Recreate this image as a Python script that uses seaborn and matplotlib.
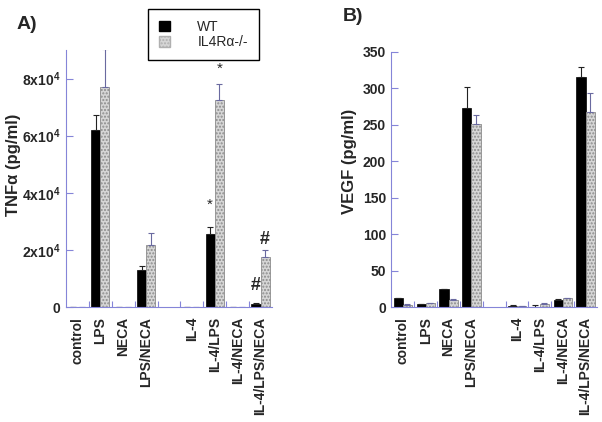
import numpy as np
import pandas as pd
import seaborn as sns
import matplotlib.pyplot as plt
import matplotlib.patches as mpatches

conditions = ['control', 'LPS', 'NECA', 'LPS/NECA',
              'IL-4', 'IL-4/LPS', 'IL-4/NECA', 'IL-4/LPS/NECA']
slots = conditions[:4] + [' '] + conditions[4:]   # empty slot between the two groups
groups = ['WT', 'IL4Rα-/-']

# panel A, TNFa (pg/ml)
tnf_wt = [0, 62000, 0, 13000, 0, 25500, 0, 1000]
tnf_wt_err = [0, 5200, 0, 1200, 0, 2500, 0, 400]
tnf_ko = [0, 77000, 0, 21700, 0, 72600, 0, 17500]
tnf_ko_err = [0, 13500, 0, 4200, 0, 5500, 0, 2500]

# panel B, VEGF (pg/ml)
vegf_wt = [12, 4, 24, 273, 1.5, 0.5, 10, 315]
vegf_wt_err = [0.5, 0.5, 0.5, 29, 1.5, 2.5, 0.5, 14]
vegf_ko = [3, 5, 10, 251, 1, 4.5, 12, 268]
vegf_ko_err = [0.5, 0.5, 0.5, 12, 0.5, 0.5, 0.5, 25]

# significance marks (panel A): condition, group, symbol
marks = [('IL-4/LPS', 'WT', '*'), ('IL-4/LPS', 'IL4Rα-/-', '*'),
         ('IL-4/LPS/NECA', 'WT', '#'), ('IL-4/LPS/NECA', 'IL4Rα-/-', '#')]
mark_offsets = [22, 15, 18, 10]

sns.set_style('ticks')
plt.rcParams['font.family'] = ['Liberation Sans', 'DejaVu Sans']
plt.rcParams['mathtext.fontset'] = 'custom'
plt.rcParams['mathtext.rm'] = 'Liberation Sans'
plt.rcParams['mathtext.bf'] = 'Liberation Sans:bold'

AXIS_COLOR = '#8585d8'
KO_FACE = '#d6d6d6'


def panel(ax, wt, wt_err, ko, ko_err, ylim, yticks, yticklabels, ylabel,
          label_y, labelpad):
    df = pd.DataFrame({
        'condition': conditions * 2,
        'group': [groups[0]] * len(conditions) + [groups[1]] * len(conditions),
        'value': wt + ko,
    })
    sns.barplot(data=df, x='condition', y='value', hue='group', order=slots,
                hue_order=groups, palette=['black', KO_FACE], saturation=1,
                errorbar=None, width=0.8, gap=0, legend=False, ax=ax)

    bar_pos = {}
    for k, (cont, errs, ecol) in enumerate(zip(ax.containers, [wt_err, ko_err],
                                               ['#222222', '#6a6aa0'])):
        xs, hs, es = [], [], []
        for bar in cont:
            cx = bar.get_x() + bar.get_width() / 2
            slot = int(round(cx))
            ci = conditions.index(slots[slot])
            if k == 0:
                bar.set_edgecolor('black')
                bar.set_linewidth(0.5)
            else:
                bar.set_hatch('.....')
                bar.set_edgecolor('#8c8c8c')
                bar.set_linewidth(0.6)
            xs.append(cx)
            hs.append(bar.get_height())
            es.append(errs[ci])
            bar_pos[(slots[slot], groups[k])] = (cx, bar.get_height() + errs[ci])
        ax.errorbar(xs, hs, yerr=[np.zeros(len(es)), es], fmt='none',
                    ecolor=ecol, elinewidth=0.8, capsize=2.5, capthick=0.8)

    ax.set_xlim(-0.5, len(slots) - 0.5)
    ax.set_ylim(*ylim)
    ax.set_yticks(yticks)
    ax.set_yticklabels(yticklabels, fontsize=10, fontweight='bold')
    ax.set_ylabel(ylabel, fontsize=12, fontweight='bold', y=label_y,
                  labelpad=labelpad)
    ax.set_xlabel('')

    centers = [i for i, s in enumerate(slots) if s.strip()]
    ax.set_xticks(np.arange(len(slots) - 1) + 0.5)
    ax.set_xticklabels([])
    ax.set_xticks(centers, minor=True)
    ax.set_xticklabels([slots[i] for i in centers], minor=True, rotation=90,
                       fontsize=10, fontweight='bold')
    ax.tick_params(axis='x', which='major', direction='in', length=4,
                   color=AXIS_COLOR, width=0.8)
    ax.tick_params(axis='x', which='minor', length=0, pad=7)
    ax.tick_params(axis='y', direction='in', length=5, color=AXIS_COLOR,
                   width=0.8, pad=4)
    for side in ['left', 'bottom']:
        ax.spines[side].set_color(AXIS_COLOR)
        ax.spines[side].set_linewidth(0.8)
    sns.despine(ax=ax)
    return bar_pos


fig = plt.figure(figsize=(6.02, 4.22), dpi=100)
ax_a = fig.add_axes([0.1096, 0.2725, 0.3422, 0.609])
ax_b = fig.add_axes([0.6503, 0.2725, 0.3414, 0.605])

pos_a = panel(ax_a, tnf_wt, tnf_wt_err, tnf_ko, tnf_ko_err, (0, 90000),
              [0, 20000, 40000, 60000, 80000],
              ['0'] + [r'$\mathbf{%dx10^{4}}$' % v for v in (2, 4, 6, 8)],
              'TNFα (pg/ml)', 0.555, 0.5)
panel(ax_b, vegf_wt, vegf_wt_err, vegf_ko, vegf_ko_err, (0, 350),
      [0, 50, 100, 150, 200, 250, 300, 350],
      ['0', '50', '100', '150', '200', '250', '300', '350'], 'VEGF (pg/ml)',
      0.57, 4)

for (cond, grp, sym), off in zip(marks, mark_offsets):
    x, top = pos_a[(cond, grp)]
    if sym == '*':
        ax_a.annotate(sym, (x, top), xytext=(0, off), textcoords='offset pixels',
                      ha='center', va='center', fontsize=11)
    else:
        ax_a.annotate(sym, (x, top), xytext=(0, off), textcoords='offset pixels',
                      ha='center', va='center', fontsize=13, fontweight='bold')

handles = [mpatches.Patch(facecolor='black', edgecolor='black', label=groups[0]),
           mpatches.Patch(facecolor=KO_FACE, edgecolor='#b0b0b0', hatch='.....',
                          label=groups[1])]
leg = fig.legend(handles=handles, loc='upper left', bbox_to_anchor=(0.246, 0.979),
                 borderaxespad=0, fontsize=10, handlelength=0.75, handleheight=0.75,
                 handletextpad=2.0, labelspacing=0.1, borderpad=0.8,
                 fancybox=False, framealpha=1, edgecolor='black')
leg.get_frame().set_linewidth(1.0)

fig.text(0.028, 0.942, 'A)', fontsize=14, fontweight='bold', va='center')
fig.text(0.570, 0.960, 'B)', fontsize=14, fontweight='bold', va='center')

fig.savefig('out.png', dpi=100)
